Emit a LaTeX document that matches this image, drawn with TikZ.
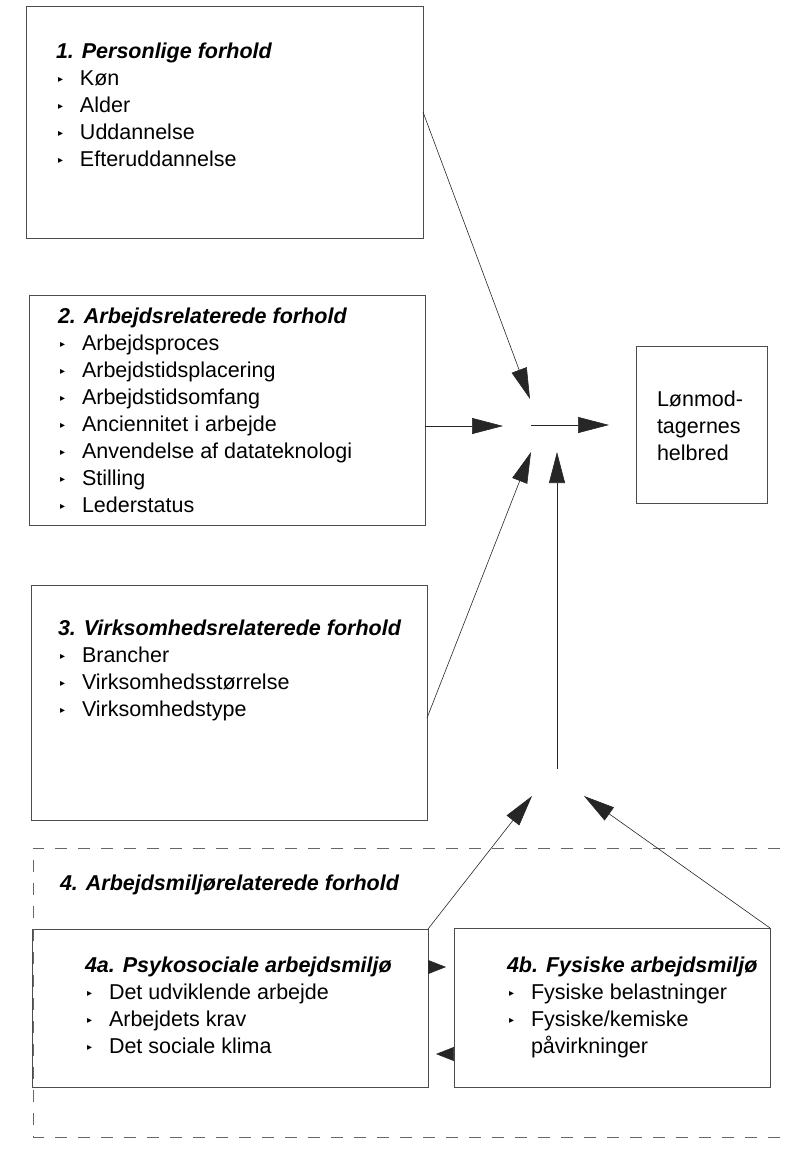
\documentclass[tikz,border=0pt]{standalone}
\usepackage{fontspec}
\setmainfont{Liberation Sans}
\newfontfamily\symfont{DejaVu Sans}
\usetikzlibrary{arrows.meta,calc}
\newcommand\bul{\makebox[24pt][l]{\hspace{2pt}\raisebox{2.5pt}{\symfont\fontsize{10}{10}\selectfont ▸}}}
\newcommand\ttl[1]{\multicolumn{2}{@{}l@{}}{\bfseries\itshape #1}}
\tikzset{
  box/.style={draw=black!70, line width=0.8pt, inner sep=0pt, outer sep=0pt, anchor=north west},
  txt/.style={inner sep=0pt, outer sep=0pt, anchor=base west, align=left, font=\fontsize{21.5}{27}\selectfont},
  conn/.style={draw=black!85, line width=0.6pt, -{Triangle[length=31pt,width=16pt]}},
  small/.style={draw=black!85, line width=0.6pt, -{Triangle[length=18pt,width=14pt]}},
  dashline/.style={draw=black!60, line width=0.7pt, dash pattern=on 12pt off 11pt}
}
\begin{document}
\begin{tikzpicture}[x=1pt,y=-1pt]
\useasboundingbox (0,0) rectangle (790,1159);
% boxes
\node[box, minimum width=397pt, minimum height=232pt] (b1) at (26,6) {};
\node[box, minimum width=396pt, minimum height=230pt] (b2) at (29,295) {};
\node[box, minimum width=396pt, minimum height=235pt] (b3) at (31,585) {};
\node[box, minimum width=131pt, minimum height=157pt] (rb) at (636,346) {};
\node[box, minimum width=396pt, minimum height=158pt] (b4a) at (32,929) {};
\node[box, minimum width=316pt, minimum height=159pt] (b4b) at (454,928) {};
% dashed region
\coordinate (dtl) at (33,848);
\coordinate (dtr) at (780,848);
\coordinate (dbl) at (33,1137);
\coordinate (dbr) at (780,1137);
\draw[dashline] (dtr) -- (dtl) -- (dbl) -- (dbr);
% texts
\node[txt] (t1) at (56,58) {\begin{tabular}[t]{@{}l@{}l@{}}
\ttl{1. Personlige forhold}\\
\bul & Køn\\
\bul & Alder\\
\bul & Uddannelse\\
\bul & Efteruddannelse
\end{tabular}};
\node[txt] (t2) at (58,323) {\begin{tabular}[t]{@{}l@{}l@{}}
\ttl{2. Arbejdsrelaterede forhold}\\
\bul & Arbejdsproces\\
\bul & Arbejdstidsplacering\\
\bul & Arbejdstidsomfang\\
\bul & Anciennitet i arbejde\\
\bul & Anvendelse af datateknologi\\
\bul & Stilling\\
\bul & Lederstatus
\end{tabular}};
\node[txt] (t3) at (58,635) {\begin{tabular}[t]{@{}l@{}l@{}}
\ttl{3. Virksomhedsrelaterede forhold}\\
\bul & Brancher\\
\bul & Virksomhedsstørrelse\\
\bul & Virksomhedstype
\end{tabular}};
\node[txt] (t4) at (60,890) {\bfseries\itshape 4. Arbejdsmiljørelaterede forhold};
\node[txt] (t4a) at (85,972) {\begin{tabular}[t]{@{}l@{}l@{}}
\ttl{4a. Psykosociale arbejdsmiljø}\\
\bul & Det udviklende arbejde\\
\bul & Arbejdets krav\\
\bul & Det sociale klima
\end{tabular}};
\node[txt] (t4b) at (507,972) {\begin{tabular}[t]{@{}l@{}l@{}}
\ttl{4b. Fysiske arbejdsmiljø}\\
\bul & Fysiske belastninger\\
\bul & Fysiske/kemiske\\
 & påvirkninger
\end{tabular}};
\node[txt] (trb) at (657,406) {\begin{tabular}[t]{@{}l@{}}
Lønmod-\\ tagernes\\ helbred
\end{tabular}};
% hub points
\coordinate (h1) at (530,399);
\coordinate (h2) at (503,426);
\coordinate (h3s) at (531,425);
\coordinate (h3) at (609,425);
\coordinate (h4) at (531,452);
\coordinate (h5) at (557,452);
\coordinate (h5s) at (557,769);
\coordinate (h6) at (532,796);
\coordinate (h7) at (584,796);
% connectors
\draw[conn] ($(b1.north east)+(0,106)$) -- (h1);
\draw[conn] (b2.east |- h2) -- (h2);
\draw[conn] (h3s) -- (h3);
\draw[conn] ($(b3.north east)+(0,133)$) -- (h4);
\draw[conn] (h5s) -- (h5);
\draw[conn] (b4a.north east) -- (h6);
\draw[conn] (b4b.north east) -- (h7);
\coordinate (s1) at (446,967);
\coordinate (s2) at (436,1054);
\draw[small] (b4a.east |- s1) -- (s1);
\draw[small] (b4b.west |- s2) -- (s2);
\end{tikzpicture}
\end{document}
